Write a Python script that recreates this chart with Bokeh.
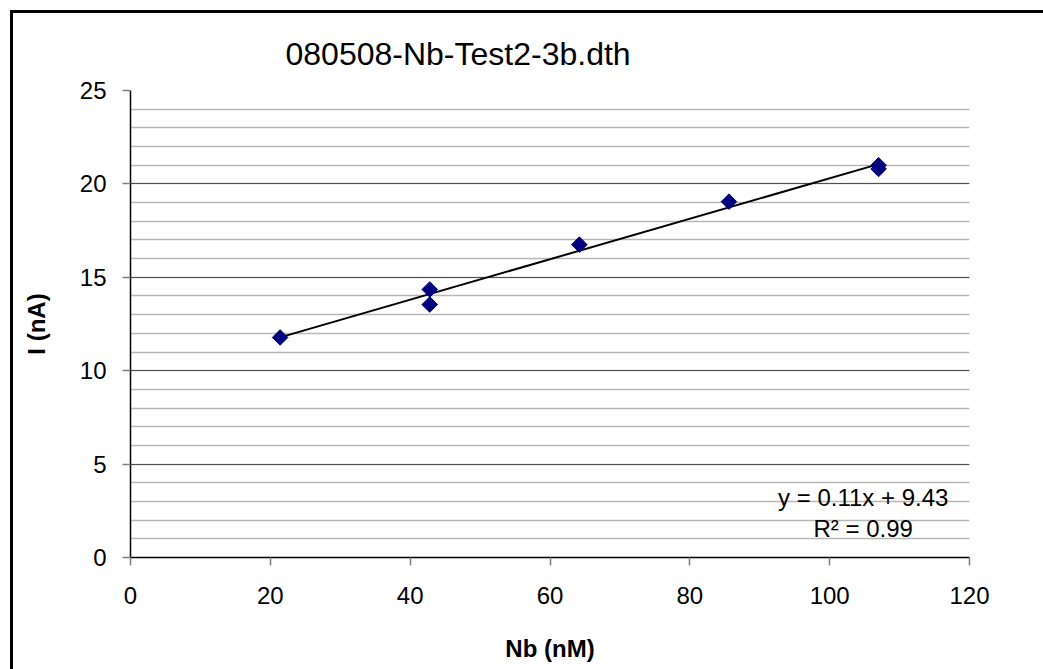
import numpy as np
from bokeh.plotting import figure
from bokeh.models import SingleIntervalTicker, Label, Range1d
from bokeh.embed import file_html
from bokeh.resources import INLINE

# data
nb_nM = [21.4, 42.8, 42.8, 64.2, 85.6, 107.0, 107.0]
i_nA = [11.78, 14.35, 13.54, 16.75, 19.05, 21.0, 20.8]
title_text = "080508-Nb-Test2-3b.dth"
x_label = "Nb (nM)"
y_label = "I (nA)"
eq_text = "y = 0.11x + 9.43"
r2_text = "R² = 0.99"

FONT = "Liberation Sans"

p = figure(width=1036, height=659, output_backend="svg", toolbar_location=None,
           x_range=Range1d(0, 120), y_range=Range1d(0, 25),
           min_border_left=117, min_border_right=80, min_border_top=77, min_border_bottom=115)
p.margin = (10, 0, 0, 10)
p.outline_line_color = None
p.background_fill_color = "white"
p.border_fill_color = "white"
p.styles = {"border-left": "3px solid black", "border-top": "3px solid black"}

# title
p.title.text = title_text
p.title.align = "left"
p.title.offset = 155
p.title.text_font = FONT
p.title.text_font_size = "32px"
p.title.text_font_style = "normal"
p.title.text_color = "black"
p.title.standoff = 38

# axes
p.xaxis.ticker = SingleIntervalTicker(interval=20, num_minor_ticks=0)
p.yaxis.ticker = SingleIntervalTicker(interval=5, num_minor_ticks=5)
for ax in (p.xaxis, p.yaxis):
    ax.axis_line_color = "black"
    ax.axis_line_width = 1.5
    ax.major_tick_line_color = "#808080"
    ax.major_tick_line_width = 1.5
    ax.major_tick_out = 8
    ax.major_tick_in = 0
    ax.minor_tick_line_color = None
    ax.major_label_text_font = FONT
    ax.major_label_text_font_size = "24px"
    ax.major_label_text_color = "black"
    ax.axis_label_text_font = FONT
    ax.axis_label_text_font_style = "bold"
    ax.axis_label_text_font_size = "24px"
    ax.axis_label_text_color = "black"
p.xaxis.axis_label = x_label
p.yaxis.axis_label = y_label
p.xaxis.major_label_standoff = 21
p.yaxis.major_label_standoff = 16
p.xaxis.axis_label_standoff = 28
p.yaxis.axis_label_standoff = 27

# grid
p.xgrid.grid_line_color = None
p.ygrid.grid_line_color = "#505050"
p.ygrid.grid_line_width = 1
p.ygrid.minor_grid_line_color = "#b8b8b8"
p.ygrid.minor_grid_line_width = 1.4

# trendline (least squares fit of data)
xa = np.array(nb_nM)
ya = np.array(i_nA)
slope, intercept = np.polyfit(xa, ya, 1)
xl = np.array([xa.min(), xa.max()])
p.line(xl, slope * xl + intercept, line_color="black", line_width=2)

# points
p.scatter(nb_nM, i_nA, marker="square", angle=np.pi / 4, size=11,
          fill_color="#000080", line_color="#000070", line_width=1)

# equation
p.add_layout(Label(x=104.8, y=3.21, text=eq_text, text_font=FONT,
                   text_font_size="24px", text_baseline="middle", text_align="center",
                   text_color="black"))
p.add_layout(Label(x=104.8, y=1.55, text=r2_text, text_font=FONT,
                   text_font_size="24px", text_baseline="middle", text_align="center",
                   text_color="black"))

open("out.html", "w").write(file_html(p, INLINE))
